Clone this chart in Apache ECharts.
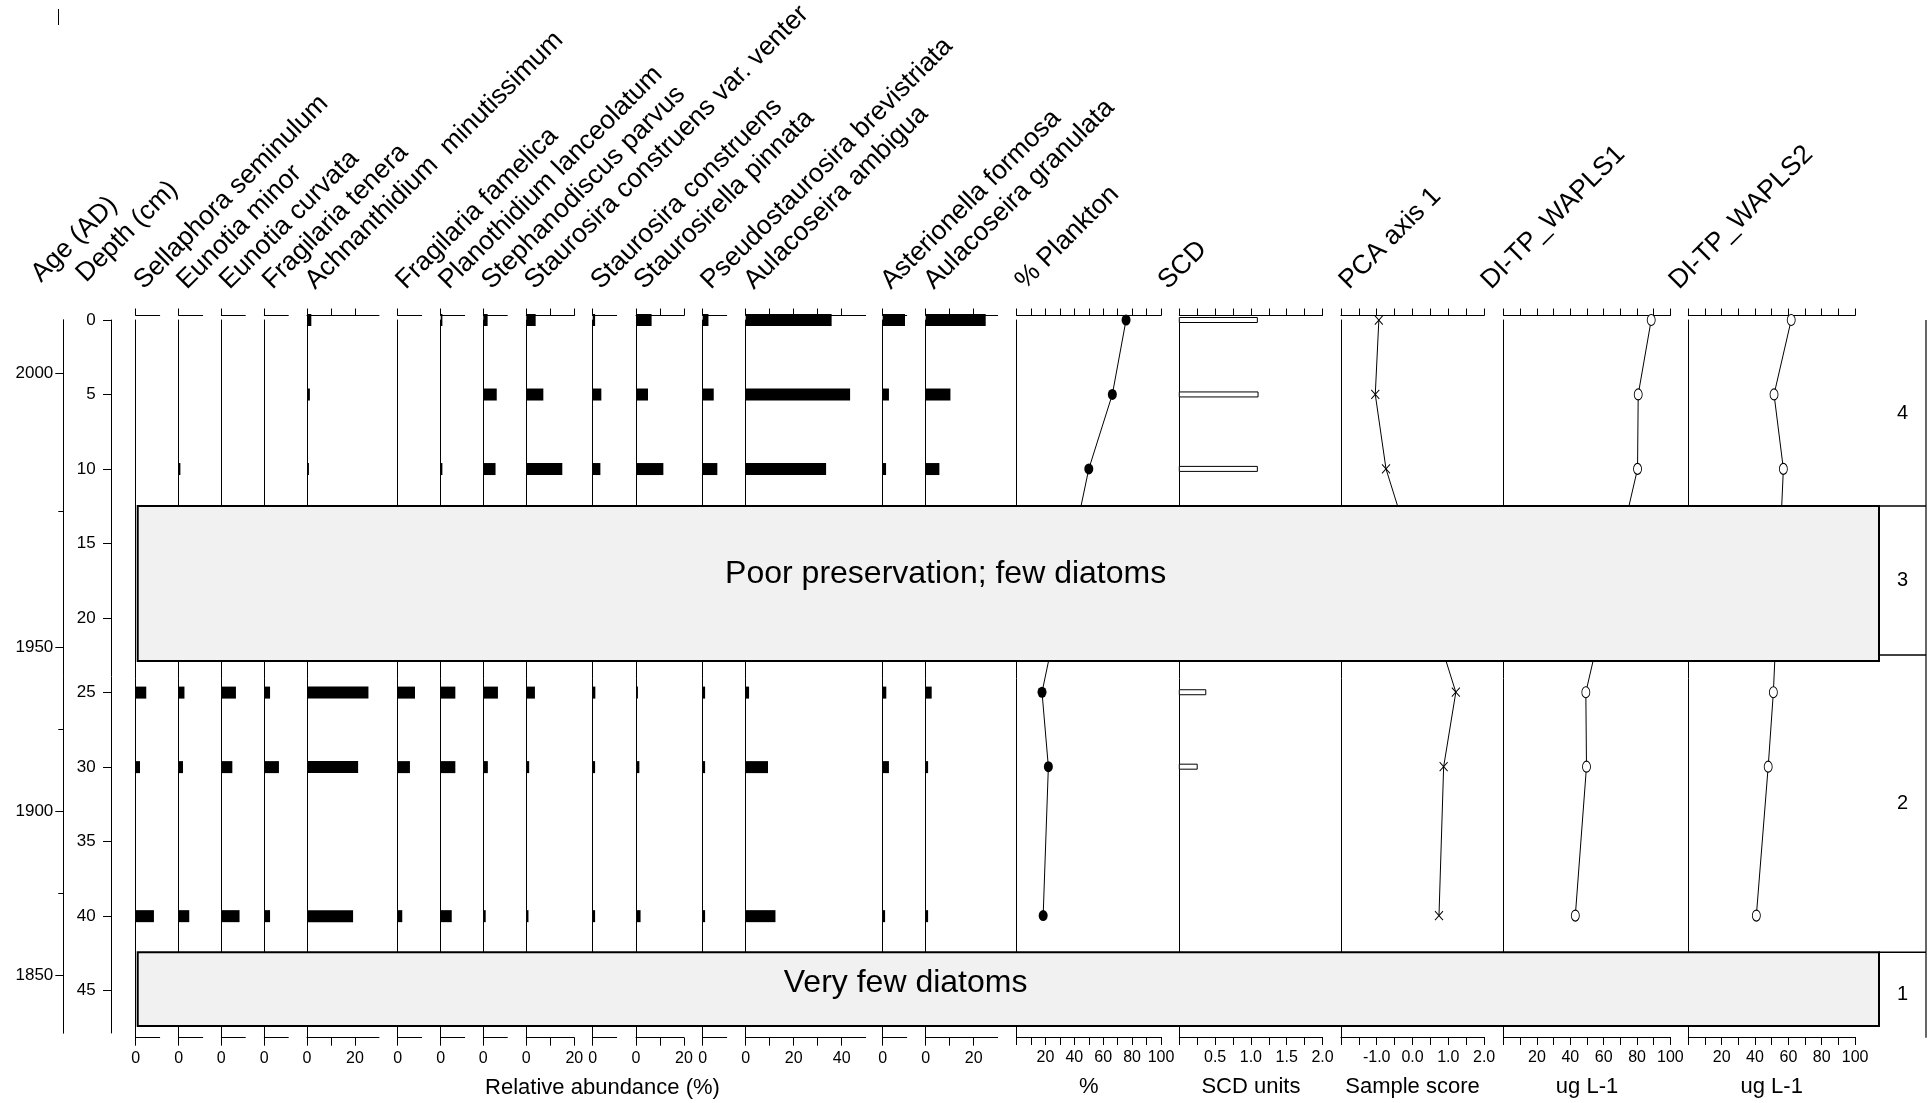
<!DOCTYPE html>
<html>
<head>
<meta charset="utf-8">
<script src="https://cdn.jsdelivr.net/npm/echarts@6/dist/echarts.min.js"></script>
<style>
  html, body { margin: 0; padding: 0; background: #fff; }
  #chart { width: 1928px; height: 1103px; }
</style>
</head>
<body>
<div id="chart"></div>
<script>
// ---------- Data ----------
// Sample depths (cm)
const depthsCm = [0, 5, 10, 25, 30, 40];

// Diatom relative abundances (%) at each sample depth
const sellaphoraSeminulum   = [0, 0, 0, 4.4, 1.8, 7.6];
const eunotiaMinor          = [0, 0, 0.7, 2.4, 1.8, 4.4];
const eunotiaCurvata        = [0, 0, 0, 6.1, 4.6, 7.6];
const fragilariaTenera      = [0, 0, 0, 2.4, 6.1, 2.4];
const achnanthidiumMinut    = [1.8, 1.2, 0.8, 25.6, 21.3, 19.2];
const fragilariaFamelica    = [0, 0, 0, 7.2, 5.1, 1.9];
const planothidiumLanceol   = [0.7, 0, 0.7, 6.1, 6.1, 4.6];
const stephanodiscusParvus  = [1.8, 5.6, 5.1, 6.1, 1.9, 1.0];
const staurosiraVenter      = [3.9, 7.1, 15.0, 3.6, 1.2, 0.9];
const staurosiraConstruens  = [1.0, 3.6, 3.2, 1.1, 1.0, 1.0];
const staurosirellaPinnata  = [6.5, 5.0, 11.4, 0.8, 1.4, 1.9];
const pseudostaurosiraBrev  = [2.4, 4.6, 6.1, 1.0, 1.0, 1.0];
const aulacoseiraAmbigua    = [35.8, 43.5, 33.5, 1.4, 9.3, 12.4];
const asterionellaFormosa   = [9.3, 2.6, 1.4, 1.5, 2.6, 1.0];
const aulacoseiraGranulata  = [25.0, 10.3, 5.7, 2.5, 1.0, 1.0];

const taxonNames = [
  'Sellaphora seminulum', 'Eunotia minor', 'Eunotia curvata', 'Fragilaria tenera',
  'Achnanthidium  minutissimum', 'Fragilaria famelica', 'Planothidium lanceolatum',
  'Stephanodiscus parvus', 'Staurosira construens var. venter', 'Staurosira construens',
  'Staurosirella pinnata', 'Pseudostaurosira brevistriata', 'Aulacoseira ambigua',
  'Asterionella formosa', 'Aulacoseira granulata'
];
const taxonValues = [
  sellaphoraSeminulum, eunotiaMinor, eunotiaCurvata, fragilariaTenera, achnanthidiumMinut,
  fragilariaFamelica, planothidiumLanceol, stephanodiscusParvus, staurosiraVenter,
  staurosiraConstruens, staurosirellaPinnata, pseudostaurosiraBrev, aulacoseiraAmbigua,
  asterionellaFormosa, aulacoseiraGranulata
];
// Axis extent (%) of each taxon column
const taxonAxisMax = [10, 10, 10, 10, 30, 10, 10, 10, 20, 10, 20, 10, 50, 10, 30];

// Summary curves
const planktonPct = [75.8, 66.3, 50.0, 17.6, 22.0, 18.4];
const scdUnits    = [1.09, 1.10, 1.09, 0.37, 0.25, null];
const pcaAxis1    = [-0.94, -1.04, -0.74, 1.21, 0.87, 0.74];
const diTpWapls1  = [88.5, 80.7, 80.3, 49.3, 49.7, 43.0];
const diTpWapls2  = [61.7, 51.4, 57.0, 51.0, 47.9, 40.8];

// Age scale (years AD) against depth (cm)
const ageYears         = [2000, 1950, 1900, 1850];
const ageDepthsCm      = [3.58, 21.99, 32.99, 43.95];
const minorAgeDepthsCm = [12.80, 27.44, 38.45];
const depthTickValues  = [0, 5, 10, 15, 20, 25, 30, 35, 40, 45];

// Sections without usable counts
const gapTopCm    = [12.48, 42.42];
const gapBottomCm = [22.88, 47.37];
const gapNotes    = ['Poor preservation; few diatoms', 'Very few diatoms'];

// Zonation (top to bottom)
const zoneNames    = ['4', '3', '2', '1'];
const zoneBoundsCm = [0, 12.48, 22.48, 42.42, 48.15];

// ---------- Layout ----------
const FONT = '"Liberation Sans", Arial, sans-serif';
const TOP = 320, BOTTOM = 1037.7, CM_PX = 14.904;
const DEPTH_MAX = (BOTTOM - TOP) / CM_PX;
const AXIS_BOTTOM = 1033;
const PCT_PX = 2.4;
const taxonLeft = [135.7, 178.7, 221.3, 264.3, 307, 397.7, 440.7, 483.3, 526.3, 592.7, 636, 702.7, 745.7, 882.7, 925.7];
const noteAnchors = [[0.464, 17.05], [0.441, 44.47]];

const grids = [], xAxes = [], yAxes = [], series = [], graphics = [];
const BLACK = '#000';

function range(a, b, step) {
  const out = [];
  for (let v = a; v <= b + 1e-9; v += step) out.push(Math.round(v * 1000) / 1000);
  return out;
}

function addPanel(left, width, min, max, ticks, labels, fmt, unitName) {
  const gi = grids.length;
  grids.push({ left: left, top: TOP, width: width, height: BOTTOM - TOP });
  const base = {
    gridIndex: gi, type: 'value', min: min, max: max,
    splitLine: { show: false },
    axisLine: { show: true, onZero: false, lineStyle: { color: BLACK, width: 1 } }
  };
  xAxes.push(Object.assign({}, base, {
    position: 'top', offset: 4.5,
    axisTick: { show: true, length: 7, customValues: ticks, lineStyle: { color: BLACK } },
    axisLabel: { show: false }
  }));
  xAxes.push(Object.assign({}, base, {
    position: 'bottom', offset: 0,
    axisTick: { show: true, length: 8, customValues: ticks, lineStyle: { color: BLACK } },
    axisLabel: {
      show: true, customValues: labels, formatter: fmt,
      fontFamily: FONT, fontSize: 16, color: BLACK, margin: 13
    },
    name: unitName || '', nameLocation: 'middle', nameGap: 39,
    nameTextStyle: { fontFamily: FONT, fontSize: 22, color: BLACK }
  }));
  yAxes.push({
    gridIndex: gi, type: 'value', min: 0, max: DEPTH_MAX, inverse: true,
    axisLine: { show: true, onZero: false, lineStyle: { color: BLACK, width: 1 } },
    axisTick: { show: false }, axisLabel: { show: false }, splitLine: { show: false }
  });
  return { xi: xAxes.length - 1, yi: yAxes.length - 1 };
}

// Horizontal bar renderer (value along x, depth along y)
function barRenderer(thick, fill, stroke) {
  return function (params, api) {
    const v = api.value(0);
    if (v == null || isNaN(v) || v <= 0) return null;
    const p0 = api.coord([0, api.value(1)]);
    const p1 = api.coord([v, api.value(1)]);
    return {
      type: 'rect',
      shape: { x: p0[0], y: p0[1] - thick / 2, width: p1[0] - p0[0], height: thick },
      style: stroke ? { fill: fill, stroke: stroke, lineWidth: 1 } : { fill: fill }
    };
  };
}

function pairs(values) {
  return depthsCm.map((d, i) => [values[i], d]);
}

// ---------- Taxon columns ----------
taxonValues.forEach((vals, i) => {
  const max = taxonAxisMax[i];
  const ticks = range(0, Math.min(max, 40), 10).filter(t => max <= 10 ? t === 0 : (t < max || max === 20));
  const labels = ticks.filter(t => t % 20 === 0);
  const ax = addPanel(taxonLeft[i], max * PCT_PX, 0, max, ticks, labels, v => String(v));
  series.push({
    type: 'custom', xAxisIndex: ax.xi, yAxisIndex: ax.yi, clip: false, z: 3,
    encode: { x: 0, y: 1 },
    renderItem: barRenderer(12, BLACK),
    data: pairs(vals)
  });
  graphics.push({ name: taxonNames[i], x: taxonLeft[i] - 2, y: 287 });
});

// ---------- Summary columns ----------
const fmt1 = v => Number(v).toFixed(1);
const intFmt = v => String(v);
const openMarker = { color: '#fff', borderColor: BLACK, borderWidth: 1 };

// % Plankton
(function () {
  const ax = addPanel(1016.6, 144.4, 0, 100, range(0, 100, 10), [20, 40, 60, 80, 100], intFmt, '%');
  series.push({
    type: 'line', xAxisIndex: ax.xi, yAxisIndex: ax.yi, clip: false, z: 3,
    data: pairs(planktonPct), symbol: 'circle', symbolSize: [9, 11],
    itemStyle: { color: BLACK }, lineStyle: { color: BLACK, width: 1 }
  });
  graphics.push({ name: '% Plankton', x: 1015, y: 287 });
})();

// SCD
(function () {
  const ax = addPanel(1179.3, 143.2, 0, 2, range(0, 2, 0.25), [0.5, 1, 1.5, 2], fmt1, 'SCD units');
  series.push({
    type: 'custom', xAxisIndex: ax.xi, yAxisIndex: ax.yi, clip: false, z: 3,
    encode: { x: 0, y: 1 },
    renderItem: barRenderer(5, '#fff', BLACK),
    data: pairs(scdUnits)
  });
  graphics.push({ name: 'SCD', x: 1158, y: 287 });
})();

// PCA axis 1
(function () {
  const ax = addPanel(1340.9, 143.2, -2, 2, range(-2, 2, 0.5), [-1, 0, 1, 2], fmt1, 'Sample score');
  series.push({
    type: 'line', xAxisIndex: ax.xi, yAxisIndex: ax.yi, clip: false, z: 3,
    data: pairs(pcaAxis1), symbol: 'path://M0 0L10 10M10 0L0 10', symbolSize: [8, 9],
    itemStyle: { color: BLACK, borderColor: BLACK, borderWidth: 1 },
    lineStyle: { color: BLACK, width: 1 }
  });
  graphics.push({ name: 'PCA axis 1', x: 1339, y: 287 });
})();

// DI-TP reconstructions
[[diTpWapls1, 1503.6, 'DI-TP_WAPLS1', 1481], [diTpWapls2, 1688.3, 'DI-TP_WAPLS2', 1669]].forEach(cfg => {
  const ax = addPanel(cfg[1], 166.8, 0, 100, range(0, 100, 10), [20, 40, 60, 80, 100], intFmt, 'ug L-1');
  series.push({
    type: 'line', xAxisIndex: ax.xi, yAxisIndex: ax.yi, clip: false, z: 3,
    data: pairs(cfg[0]), symbol: 'circle', symbolSize: [8, 11],
    itemStyle: openMarker,
    lineStyle: { color: BLACK, width: 1 }
  });
  graphics.push({ name: cfg[2], x: cfg[3], y: 287 });
});

// ---------- Age and depth scales ----------
(function () {
  const gi = grids.length;
  const axisMax = (AXIS_BOTTOM - TOP) / CM_PX;
  grids.push({ left: 63.3, top: TOP, width: 48.4, height: AXIS_BOTTOM - TOP });
  xAxes.push({ gridIndex: gi, type: 'value', min: 0, max: 1, show: false });
  const common = {
    gridIndex: gi, type: 'value', min: 0, max: axisMax, inverse: true,
    splitLine: { show: false },
    axisLine: { show: true, onZero: false, lineStyle: { color: BLACK, width: 1 } }
  };
  yAxes.push(Object.assign({}, common, {
    position: 'left',
    axisTick: { show: true, length: 8, customValues: ageDepthsCm, lineStyle: { color: BLACK } },
    axisLabel: {
      show: true, customValues: ageDepthsCm, margin: 10,
      fontFamily: FONT, fontSize: 17, color: BLACK,
      formatter: v => {
        const k = ageDepthsCm.findIndex(d => Math.abs(d - v) < 1e-6);
        return k >= 0 ? String(ageYears[k]) : '';
      }
    }
  }));
  yAxes.push(Object.assign({}, common, {
    position: 'left',
    axisTick: { show: true, length: 5, customValues: minorAgeDepthsCm, lineStyle: { color: BLACK } },
    axisLabel: { show: false }
  }));
  yAxes.push(Object.assign({}, common, {
    position: 'right',
    axisTick: { show: true, inside: true, length: 8.7, customValues: depthTickValues, lineStyle: { color: BLACK } },
    axisLabel: {
      show: true, inside: true, margin: 16, customValues: depthTickValues,
      fontFamily: FONT, fontSize: 17, color: BLACK
    }
  }));
  graphics.push({ name: 'Age (AD)', x: 31, y: 280 });
  graphics.push({ name: 'Depth (cm)', x: 76, y: 280 });
})();

// ---------- Uncounted sections ----------
(function () {
  const gi = grids.length;
  grids.push({ left: 137.7, top: TOP, width: 1879 - 137.7, height: BOTTOM - TOP });
  xAxes.push({ gridIndex: gi, type: 'value', min: 0, max: 1, show: false });
  yAxes.push({ gridIndex: gi, type: 'value', min: 0, max: DEPTH_MAX, inverse: true, show: false });
  series.push({
    type: 'custom', xAxisIndex: xAxes.length - 1, yAxisIndex: yAxes.length - 1,
    clip: false, z: 20,
    encode: { x: 2, y: 0 },
    data: gapTopCm.map((t, i) => [t, gapBottomCm[i], i]),
    renderItem: function (params, api) {
      const k = api.value(2);
      const p0 = api.coord([0, api.value(0)]);
      const p1 = api.coord([1, api.value(1)]);
      const a = api.coord(noteAnchors[k]);
      return {
        type: 'group',
        children: [
          { type: 'rect', shape: { x: p0[0], y: p0[1], width: p1[0] - p0[0], height: p1[1] - p0[1] },
            style: { fill: '#f1f1f1', stroke: BLACK, lineWidth: 2 } },
          { type: 'text', x: a[0], y: a[1],
            style: { text: gapNotes[k], font: '32px ' + FONT, fill: BLACK,
                     align: 'center', verticalAlign: 'middle', textAlign: 'center', textVerticalAlign: 'middle' } }
        ]
      };
    }
  });
})();

// ---------- Zone column ----------
(function () {
  const gi = grids.length;
  grids.push({ left: 1879, top: TOP, width: 47, height: BOTTOM - TOP });
  xAxes.push({ gridIndex: gi, type: 'value', min: 0, max: 1, show: false });
  yAxes.push({ gridIndex: gi, type: 'value', min: 0, max: DEPTH_MAX, inverse: true, show: false });
  series.push({
    type: 'custom', xAxisIndex: xAxes.length - 1, yAxisIndex: yAxes.length - 1,
    clip: false, z: 5,
    encode: { x: 2, y: 0 },
    data: zoneNames.map((n, i) => [zoneBoundsCm[i], zoneBoundsCm[i + 1], 0.5, i]),
    renderItem: function (params, api) {
      const k = api.value(3);
      const top = api.value(0), bot = api.value(1);
      const pl = api.coord([0, bot]);
      const pr = api.coord([1, bot]);
      const pt = api.coord([1, top]);
      const pm = api.coord([0.5, (top + bot) / 2]);
      const children = [
        { type: 'line', shape: { x1: pr[0], y1: pt[1], x2: pr[0], y2: pr[1] }, style: { stroke: BLACK, lineWidth: 1.2 } },
        { type: 'text', x: pm[0], y: pm[1],
          style: { text: zoneNames[k], font: '20px ' + FONT, fill: BLACK,
                   align: 'center', verticalAlign: 'middle', textAlign: 'center', textVerticalAlign: 'middle' } }
      ];
      if (k < zoneNames.length - 1) {
        children.push({ type: 'line', shape: { x1: pl[0], y1: pl[1], x2: pr[0], y2: pr[1] }, style: { stroke: BLACK, lineWidth: 1.5 } });
      }
      return { type: 'group', children: children };
    }
  });
})();

// ---------- Column headings (rotated) ----------
const headingElements = graphics.map(h => ({
  type: 'text',
  x: h.x + 14.5, y: h.y + 7.5,
  rotation: Math.PI / 4,
  style: {
    text: h.name, font: '26.5px ' + FONT, fill: BLACK,
    align: 'left', verticalAlign: 'bottom', textAlign: 'left', textVerticalAlign: 'bottom'
  }
}));

headingElements.push({
  type: 'text', x: 602.5, y: 1088,
  style: { text: 'Relative abundance (%)', font: '22px ' + FONT, fill: BLACK,
           align: 'center', verticalAlign: 'middle', textAlign: 'center', textVerticalAlign: 'middle' }
});
headingElements.push({
  type: 'line', shape: { x1: 58.5, y1: 9, x2: 58.5, y2: 25 }, style: { stroke: BLACK, lineWidth: 1 }
});

const chart = echarts.init(document.getElementById('chart'), null, { renderer: 'canvas' });
chart.setOption({
  backgroundColor: '#fff',
  animation: false,
  grid: grids,
  xAxis: xAxes,
  yAxis: yAxes,
  series: series,
  graphic: { elements: headingElements }
});
</script>
</body>
</html>
